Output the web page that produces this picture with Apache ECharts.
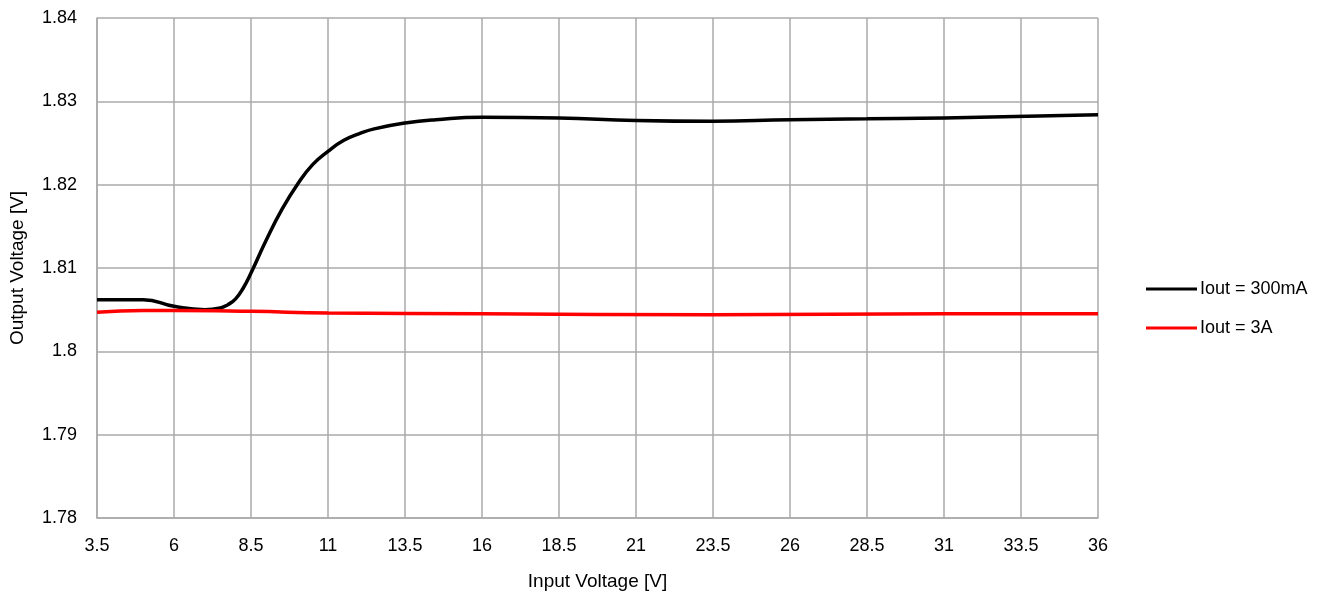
<!DOCTYPE html>
<html><head><meta charset="utf-8">
<script src="https://cdn.jsdelivr.net/npm/echarts@6/dist/echarts.min.js"></script>
<style>html,body{margin:0;padding:0;background:#fff}#c{width:1324px;height:597px}</style>
</head><body><div id="c"></div>
<script>
const vin300 = [3.5, 5, 6, 7, 7.5, 7.75, 8, 8.25, 8.5, 9, 9.5, 10, 10.5, 11, 11.5, 12, 12.5, 13.5, 14.5, 16, 18.5, 21, 23.5, 26, 28.5, 31, 36];
const vout300 = [1.8062, 1.8062, 1.8054, 1.8050, 1.8052, 1.8056, 1.8063, 1.8076, 1.8094, 1.8134, 1.8170, 1.8200, 1.8224, 1.8240, 1.8253, 1.8261, 1.8267, 1.8274, 1.8278, 1.8281, 1.8280, 1.8277, 1.8276, 1.8278, 1.8279, 1.8280, 1.8284];
const vin3A = [3.5, 5, 6, 8.5, 11, 16, 23.5, 31, 36];
const vout3A = [1.8047, 1.8049, 1.8049, 1.8048, 1.8046, 1.8045, 1.8044, 1.8045, 1.8045];
const seriesNames = ['Iout = 300mA', 'Iout = 3A'];
const xTitle = 'Input Voltage [V]';
const yTitle = 'Output Voltage [V]';

const font = "'Liberation Sans', Arial, sans-serif";
const chart = echarts.init(document.getElementById('c'));
chart.setOption({
  animation: false,
  grid: {left: 97, right: 226, top: 18, bottom: 79, containLabel: false, outerBoundsMode: 'none'},
  legend: {
    orient: 'vertical', left: 1146, top: 280, itemGap: 21, padding: 0,
    itemWidth: 51, itemHeight: 3, icon: 'rect',
    textStyle: {fontFamily: font, fontSize: 18, color: '#000', padding: [0, 0, 0, -2]},
    data: seriesNames
  },
  xAxis: {
    type: 'value', min: 3.5, max: 36, interval: 2.5,
    name: xTitle, nameLocation: 'middle', nameGap: 54,
    nameTextStyle: {fontFamily: font, fontSize: 19, color: '#000'},
    axisLine: {show: true, lineStyle: {color: '#aaa', width: 1.5}},
    axisTick: {show: false},
    axisLabel: {fontFamily: font, fontSize: 18, color: '#000', margin: 19},
    splitLine: {show: true, lineStyle: {color: '#aaa', width: 1.5}}
  },
  yAxis: {
    type: 'value', min: 1.78, max: 1.84, interval: 0.01,
    name: yTitle, nameLocation: 'middle', nameGap: 70,
    nameTextStyle: {fontFamily: font, fontSize: 19, color: '#000'},
    axisLine: {show: true, lineStyle: {color: '#aaa', width: 1.5}},
    axisTick: {show: false},
    axisLabel: {fontFamily: font, fontSize: 18, color: '#000', margin: 20,
      formatter: v => String(+v.toFixed(2))},
    splitLine: {show: true, lineStyle: {color: '#aaa', width: 1.5}}
  },
  series: [
    {name: seriesNames[0], type: 'line', smooth: 0.5, symbol: 'none',
     color: '#000', lineStyle: {width: 3.5, color: '#000'},
     data: vin300.map((x, i) => [x, vout300[i]])},
    {name: seriesNames[1], type: 'line', smooth: 0.5, symbol: 'none',
     color: '#ff0000', lineStyle: {width: 3.5, color: '#ff0000'},
     data: vin3A.map((x, i) => [x, vout3A[i]])}
  ]
});
</script></body></html>
